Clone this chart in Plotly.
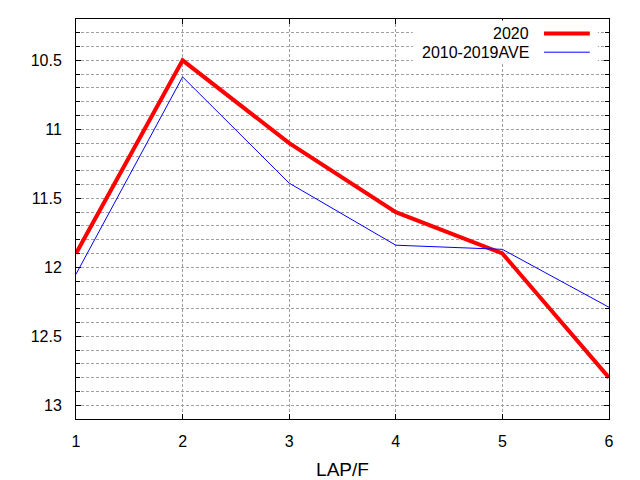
import plotly.graph_objects as go

laps = [1, 2, 3, 4, 5, 6]
y2020 = [11.9, 10.5, 11.1, 11.6, 11.9, 12.8]
y_ave = [12.05, 10.62, 11.39, 11.84, 11.87, 12.29]
names = ["2020", "2010-2019AVE"]
colors = ["#ff0000", "#0000ff"]
widths = [4, 1]

FONT = "Liberation Sans, Arial, sans-serif"

fig = go.Figure()
for name, ys, c, w in zip(names, [y2020, y_ave], colors, widths):
    fig.add_trace(go.Scatter(x=laps, y=ys, mode="lines", name=name,
                             line=dict(color=c, width=w), showlegend=False))

grid = dict(color="#a0a0a0", dash="3px,2px", width=1)

# page body has an 8px margin, so the figure is 8px smaller each way
fig.update_layout(
    width=632, height=472,
    margin=dict(l=68, r=31, t=11, b=61),
    paper_bgcolor="white", plot_bgcolor="white",
    font=dict(family=FONT, size=16, color="black"),
    xaxis=dict(range=[1, 6], dtick=1, showgrid=True, gridcolor=grid["color"],
               griddash=grid["dash"], gridwidth=1, zeroline=False,
               showline=True, linecolor="black", linewidth=1, mirror="ticks",
               ticks="inside", ticklen=5, tickcolor="black",
               ticklabelstandoff=8, automargin=False,
               title=dict(text="LAP/F", standoff=17)),
    yaxis=dict(range=[13.1, 10.2], tick0=10.5, dtick=0.5, showgrid=True,
               gridcolor=grid["color"], griddash=grid["dash"], gridwidth=1,
               zeroline=False, showline=True, linecolor="black", linewidth=1,
               mirror="ticks", ticks="inside", ticklen=5, tickcolor="black",
               ticklabelstandoff=10, automargin=False,
               minor=dict(tick0=10.5, dtick=0.1, ticks="inside", ticklen=4,
                          tickcolor="black", showgrid=True,
                          gridcolor=grid["color"], griddash=grid["dash"],
                          gridwidth=1)),
)

# gnuplot-style key: opaque box, right-aligned text, sample to the right
fig.add_shape(type="rect", xref="paper", yref="paper", x0=0.632, x1=0.979,
              y0=0.89, y1=0.996, fillcolor="white", line=dict(width=0),
              layer="above")
key_y = [0.964, 0.917]
for name, c, w, ky in zip(names, colors, widths, key_y):
    fig.add_annotation(xref="paper", yref="paper", x=0.854, y=ky, text=name,
                       showarrow=False, xanchor="right", yanchor="middle",
                       font=dict(family=FONT, size=16, color="black"))
    fig.add_shape(type="line", xref="paper", yref="paper", x0=0.878, x1=0.964,
                  y0=ky, y1=ky, line=dict(color=c, width=w), layer="above")

fig.write_html("out.html")
